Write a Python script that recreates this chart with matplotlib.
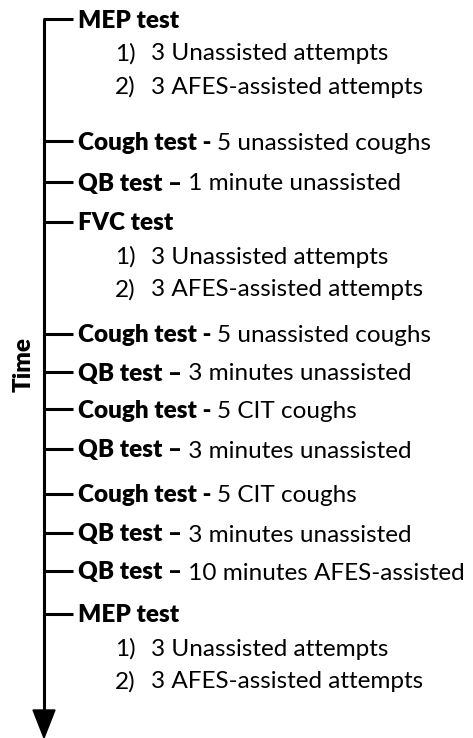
import matplotlib
matplotlib.use("Agg")
import matplotlib.pyplot as plt
from matplotlib.patches import Polygon

plt.rcParams['font.family'] = ['Lato', 'DejaVu Sans']

# timeline entries: bold heading, plain remainder
headings = [
    "MEP test", "Cough test - ", "QB test \u2013", "FVC test",
    "Cough test - ", "QB test \u2013", "Cough test - ", "QB test \u2013",
    "Cough test - ", "QB test \u2013", "QB test \u2013", "MEP test",
]
details = [
    "", "5 unassisted coughs", " 1 minute unassisted", "",
    "5 unassisted coughs", " 3 minutes unassisted", "5 CIT coughs", " 3 minutes unassisted",
    "5 CIT coughs", " 3 minutes unassisted", " 10 minutes AFES-assisted", "",
]
# numbered sub-steps belonging to an entry (index -> list)
sub_steps = {
    0: ["3 Unassisted attempts", "3 AFES-assisted attempts"],
    3: ["3 Unassisted attempts", "3 AFES-assisted attempts"],
    11: ["3 Unassisted attempts", "3 AFES-assisted attempts"],
}
axis_label = "Time"

# layout (pixels, y downwards)
W, H = 473, 738
row_y = [19, 141, 182, 222, 334, 372, 409, 449, 494, 533, 571, 614]
sub_gap = 33
axis_x = 44
tick_end = 73
text_x = 78
num_x = 115
sub_x = 151
fs = 17.5
lw = 2.2
base_off = 8.5

fig = plt.figure(figsize=(W / 100, H / 100), dpi=100)
ax = fig.add_axes([0, 0, 1, 1])
ax.set_xlim(0, W)
ax.set_ylim(H, 0)
ax.axis('off')

arrow_base = 710
ax.plot([axis_x, axis_x], [row_y[0], arrow_base], color='black', lw=lw,
        solid_capstyle='butt')
ax.add_patch(Polygon([[axis_x - 11, arrow_base], [axis_x + 11, arrow_base],
                      [axis_x, H]], closed=True, color='black'))

for i, (head, rest) in enumerate(zip(headings, details)):
    y = row_y[i]
    ax.plot([axis_x - lw / 2, tick_end], [y, y], color='black', lw=lw,
            solid_capstyle='butt')
    t = ax.text(text_x, y + base_off, head, fontsize=fs, fontweight='heavy',
                va='baseline', ha='left')
    if rest:
        ax.annotate(rest, xy=(1, 0), xycoords=t, fontsize=fs, va='bottom',
                    ha='left')
    for k, step in enumerate(sub_steps.get(i, [])):
        sy = y + sub_gap * (k + 1) + base_off
        ax.text(num_x, sy, f"{k + 1})", fontsize=fs, va='baseline', ha='left')
        ax.text(sub_x, sy, step, fontsize=fs, va='baseline', ha='left')

ax.text(24, 364, axis_label, fontsize=fs, fontweight='heavy', rotation=90,
        ha='center', va='center')

fig.savefig("out.png", dpi=100)
